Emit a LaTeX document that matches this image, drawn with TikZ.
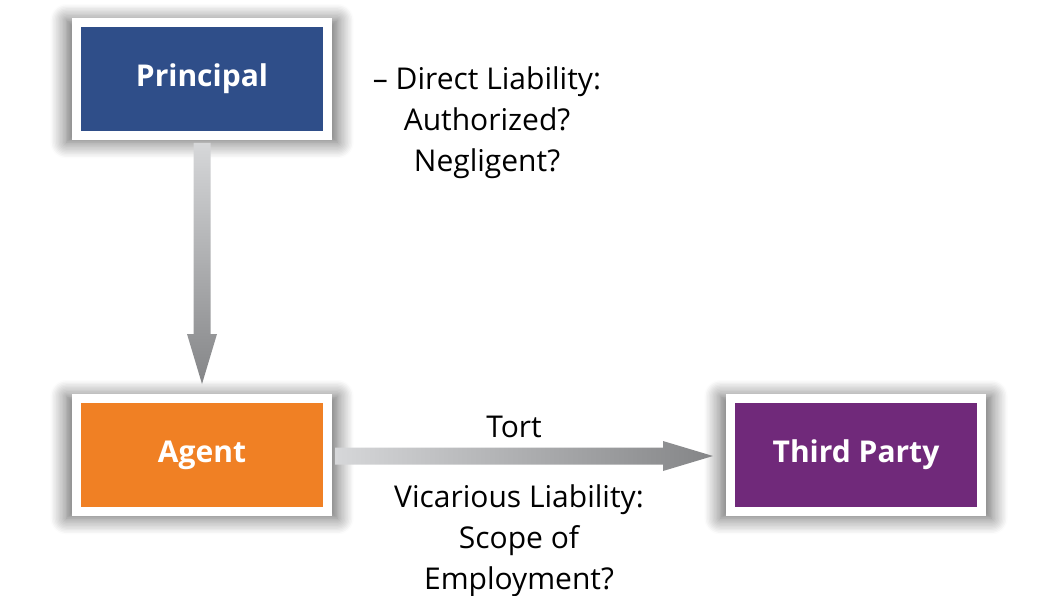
\documentclass[tikz,border=0pt]{standalone}
\usepackage{fontspec}
\setmainfont{Open Sans}
\usetikzlibrary{shapes,arrows,positioning,calc,shadows.blur}

\definecolor{principalblue}{RGB}{47,78,137}
\definecolor{agentorange}{RGB}{240,128,36}
\definecolor{thirdpurple}{RGB}{112,41,122}
\definecolor{arrowlight}{RGB}{214,215,217}
\definecolor{arrowdark}{RGB}{132,133,135}

\begin{document}
\begin{tikzpicture}[x=1pt,y=-1pt,node distance=376pt]

\tikzstyle{party} = [rectangle, minimum width=251pt, minimum height=113pt, text centered, draw=white, line width=9pt, text=white, font=\fontsize{30}{36}\selectfont\bfseries, blur shadow={shadow xshift=0pt, shadow yshift=-2pt, shadow blur radius=15pt, shadow scale=1.08, shadow opacity=62, shadow blur steps=12}]
\tikzstyle{liability} = [align=center, font=\fontsize{30}{41}\selectfont]

\useasboundingbox (0,0) rectangle (1048,596);

\node (principal) [party, fill=principalblue] at (202,79) {Principal};
\node (agent) [party, fill=agentorange, below of=principal] {Agent};
\node (thirdparty) [party, fill=thirdpurple, right of=agent, xshift=278pt] {Third Party};

\node (direct) [liability] at (487,123) {-- Direct Liability:\\ Authorized?\\ Negligent?};
\node (tort) [liability] at (514,427) {Tort};
\node (vicarious) [liability] at (519,541) {Vicarious Liability:\\ Scope of\\ Employment?};

% block arrows between the parties
\coordinate (vtop) at ($(principal.south)+(0,3)$);
\coordinate (vtip) at ($(agent.north)+(0,-10)$);
\shade[top color=arrowlight, bottom color=arrowdark] ($(vtop)+(-8.5,0)$) -- ($(vtip)+(-8.5,-50)$) -- ($(vtip)+(-15,-50)$) -- (vtip) -- ($(vtip)+(15,-50)$) -- ($(vtip)+(8.5,-50)$) -- ($(vtop)+(8.5,0)$) -- cycle;

\coordinate (hstart) at ($(agent.east)+(3,1)$);
\coordinate (htip) at ($(thirdparty.west)+(-13,1)$);
\shade[left color=arrowlight, right color=arrowdark] ($(hstart)+(0,-8.5)$) -- ($(htip)+(-50,-8.5)$) -- ($(htip)+(-50,-15)$) -- (htip) -- ($(htip)+(-50,15)$) -- ($(htip)+(-50,8.5)$) -- ($(hstart)+(0,8.5)$) -- cycle;

\end{tikzpicture}
\end{document}
